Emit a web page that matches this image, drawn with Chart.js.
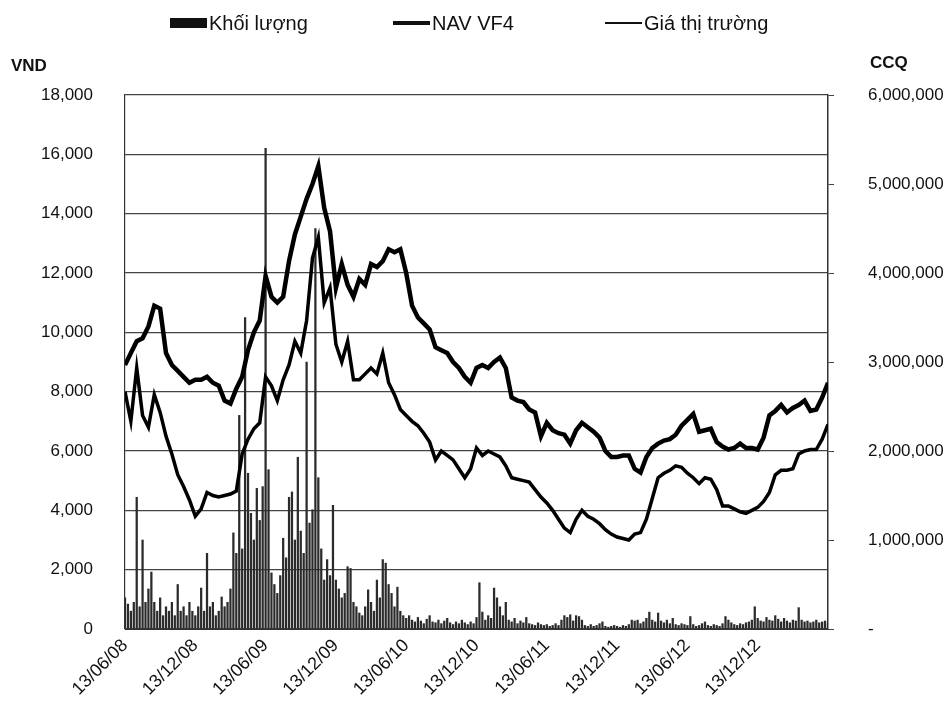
<!DOCTYPE html>
<html>
<head>
<meta charset="utf-8">
<script src="https://cdn.jsdelivr.net/npm/chart.js@4"></script>
<style>
    body { margin: 0; background: #fff; }
    #wrap { position: relative; width: 945px; height: 708px; font-family: "Liberation Sans", Arial, sans-serif; }
    #legend { position: absolute; top: 10px; left: 0; width: 945px; height: 26px; }
    .item { position: absolute; top: 0; height: 26px; display: flex; align-items: center; font-size: 20px; color: #111; }
    .sw { display: inline-block; width: 37px; margin-right: 2px; background: #111; }
    .axisTitle { position: absolute; font-weight: bold; font-size: 17px; color: #111; }
</style>
</head>
<body>
<div id="wrap">
    <canvas id="chart" width="945" height="708"></canvas>
    <div id="legend"></div>
    <div class="axisTitle" id="leftTitle" style="left:11px; top:56px;"></div>
    <div class="axisTitle" id="rightTitle" style="left:870px; top:53px;"></div>
</div>
<script>
// tick labels on the date axis, one every 6 months from 13/06/08
const dateLabels = ['13/06/08', '13/12/08', '13/06/09', '13/12/09', '13/06/10', '13/12/10', '13/06/11', '13/12/11', '13/06/12', '13/12/12'];
const dateTicks = [0, 6, 12, 18, 24, 30, 36, 42, 48, 54];   // months after 13/06/08

const seriesNames = ['Khối lượng', 'NAV VF4', 'Giá thị trường'];
const axisTitles = ['VND', 'CCQ'];

// NAV VF4 (VND), one value every half month
const navVF4 = [
    8900, 9300, 9700, 9800, 10200, 10900, 10800, 9300, 8900, 8700,
    8500, 8300, 8400, 8400, 8500, 8300, 8200, 7700, 7600, 8100,
    8500, 9400, 10000, 10400, 11900, 11200, 11000, 11200, 12400, 13300,
    13900, 14500, 15000, 15600, 14200, 13400, 11500, 12300, 11600, 11200,
    11800, 11600, 12300, 12200, 12400, 12800, 12700, 12800, 12000, 10900,
    10500, 10300, 10100, 9500, 9400, 9300, 9000, 8800, 8500, 8300,
    8800, 8900, 8800, 9000, 9150, 8800, 7800, 7700, 7650, 7400,
    7300, 6500, 6950, 6700, 6600, 6550, 6250, 6700, 6950, 6800,
    6650, 6450, 6000, 5800, 5800, 5850, 5850, 5400, 5270, 5800,
    6100, 6250, 6350, 6400, 6550, 6850, 7050, 7250, 6650, 6700,
    6750, 6300, 6150, 6050, 6100, 6250, 6100, 6100, 6050, 6450,
    7200, 7350, 7550, 7300, 7450, 7550, 7700, 7350, 7400, 7800,
    8300
];

// Giá thị trường (VND), one value every half month
const marketPrice = [
    8000, 7000, 8800, 7200, 6800, 7900, 7300, 6500, 5900, 5200,
    4800, 4350, 3800, 4050, 4600, 4500, 4450, 4500, 4550, 4650,
    5900, 6400, 6750, 6950, 8500, 8200, 7700, 8400, 8900, 9700,
    9300, 10400, 12500, 13200, 11000, 11500, 9600, 9000, 9700, 8400,
    8400, 8600, 8800, 8600, 9300, 8300, 7900, 7400, 7200, 7000,
    6850, 6600, 6300, 5700, 6000, 5850, 5700, 5400, 5100, 5400,
    6100, 5850, 6000, 5900, 5800, 5500, 5100, 5050, 5000, 4950,
    4700, 4450, 4250, 4000, 3700, 3400, 3250, 3700, 4000, 3800,
    3700, 3550, 3350, 3200, 3100, 3050, 3000, 3200, 3250, 3700,
    4400, 5100, 5250, 5350, 5500, 5450, 5250, 5100, 4900, 5100,
    5050, 4700, 4150, 4150, 4050, 3950, 3900, 4000, 4100, 4300,
    4600, 5200, 5350, 5350, 5400, 5900, 6000, 6050, 6050, 6400,
    6900
];

// Khối lượng (CCQ), one value every quarter month
const volume = [
    350000, 280000, 200000, 300000, 1480000, 250000, 1000000, 300000, 450000, 640000, 300000, 200000,
    350000, 150000, 250000, 200000, 300000, 150000, 500000, 200000, 250000, 150000, 300000, 200000,
    150000, 250000, 460000, 200000, 850000, 250000, 300000, 150000, 200000, 360000, 250000, 300000,
    450000, 1080000, 850000, 2400000, 900000, 3500000, 1750000, 1300000, 1000000, 1580000, 1220000, 1600000,
    5400000, 1790000, 630000, 500000, 400000, 600000, 1020000, 800000, 1480000, 1540000, 1000000, 1930000,
    1100000, 850000, 3000000, 1190000, 1340000, 4500000, 1700000, 900000, 550000, 780000, 600000, 1390000,
    550000, 450000, 350000, 400000, 700000, 680000, 300000, 250000, 180000, 150000, 250000, 440000,
    300000, 200000, 550000, 350000, 780000, 740000, 500000, 400000, 250000, 470000, 200000, 150000,
    120000, 150000, 100000, 80000, 130000, 90000, 60000, 110000, 150000, 80000, 70000, 100000,
    60000, 90000, 120000, 70000, 50000, 80000, 60000, 100000, 70000, 50000, 80000, 60000,
    130000, 520000, 190000, 100000, 150000, 120000, 460000, 350000, 250000, 150000, 300000, 100000,
    80000, 120000, 60000, 90000, 70000, 130000, 60000, 50000, 40000, 70000, 50000, 40000,
    50000, 30000, 40000, 60000, 40000, 100000, 150000, 130000, 160000, 90000, 150000, 140000,
    100000, 40000, 30000, 50000, 30000, 40000, 60000, 80000, 30000, 20000, 30000, 40000,
    30000, 20000, 40000, 30000, 50000, 100000, 90000, 100000, 60000, 80000, 120000, 190000,
    100000, 80000, 180000, 90000, 70000, 100000, 60000, 120000, 50000, 40000, 60000, 50000,
    40000, 140000, 50000, 30000, 40000, 60000, 80000, 40000, 30000, 50000, 40000, 30000,
    60000, 140000, 100000, 70000, 50000, 40000, 60000, 50000, 70000, 80000, 100000, 250000,
    120000, 90000, 80000, 130000, 100000, 90000, 150000, 110000, 80000, 120000, 90000, 70000,
    100000, 90000, 240000, 100000, 80000, 90000, 70000, 80000, 100000, 70000, 80000, 90000,
    60000
];

const tickFont = { family: 'Liberation Sans', size: 17 };

const chart = new Chart(document.getElementById('chart'), {
    data: {
        datasets: [
            {
                type: 'bar',
                label: seriesNames[0],
                data: volume.map((v, i) => ({ x: i * 0.25, y: v })),
                yAxisID: 'y1',
                backgroundColor: '#2b2b2b',
                borderWidth: 0,
                barThickness: 1.6,
                order: 3
            },
            {
                type: 'line',
                label: seriesNames[1],
                data: navVF4.map((v, i) => ({ x: i * 0.5, y: v })),
                yAxisID: 'y',
                borderColor: '#000',
                borderWidth: 4.5,
                pointRadius: 0,
                tension: 0,
                order: 1
            },
            {
                type: 'line',
                label: seriesNames[2],
                data: marketPrice.map((v, i) => ({ x: i * 0.5, y: v })),
                yAxisID: 'y',
                borderColor: '#000',
                borderWidth: 3.5,
                pointRadius: 0,
                tension: 0,
                order: 2
            }
        ]
    },
    options: {
        responsive: false,
        animation: false,
        layout: { padding: { top: 95, left: 0, right: 0, bottom: 0 } },
        plugins: { legend: { display: false }, tooltip: { enabled: false } },
        scales: {
            x: {
                type: 'linear',
                offset: false,
                min: 0,
                max: 60,
                grid: { display: false, drawTicks: false, offset: false },
                border: { display: true, color: '#333', width: 1 },
                afterBuildTicks: axis => { axis.ticks = dateTicks.map(v => ({ value: v })); },
                afterFit: axis => { axis.height = 79; },
                ticks: {
                    autoSkip: false,
                    maxRotation: 45,
                    minRotation: 45,
                    padding: 6,
                    color: '#111',
                    font: { family: 'Liberation Sans', size: 18 },
                    callback: v => dateLabels[dateTicks.indexOf(v)]
                }
            },
            y: {
                position: 'left',
                min: 0,
                max: 18000,
                grid: { color: '#444', lineWidth: 1.2, drawTicks: false },
                border: { display: true, color: '#333', width: 1.2 },
                afterFit: axis => { axis.width = 125; },
                ticks: {
                    stepSize: 2000,
                    padding: 32,
                    color: '#111',
                    font: tickFont,
                    callback: v => v.toLocaleString('en-US')
                }
            },
            y1: {
                position: 'right',
                min: 0,
                max: 6000000,
                grid: { drawOnChartArea: false, drawTicks: true, tickLength: 6, color: '#444' },
                border: { display: true, color: '#333', width: 1.5 },
                afterFit: axis => { axis.width = 117; },
                ticks: {
                    stepSize: 1000000,
                    padding: 34,
                    color: '#111',
                    font: tickFont,
                    callback: v => v === 0 ? '-' : v.toLocaleString('en-US')
                }
            }
        }
    }
});

// legend and axis titles as plain text over the canvas
const legendPos = [170, 393, 605];
const swatchH = [10, 4, 2.5];
const legend = document.getElementById('legend');
seriesNames.forEach((name, i) => {
    const item = document.createElement('div');
    item.className = 'item';
    item.style.left = legendPos[i] + 'px';
    item.innerHTML = `<span class="sw" style="height:${swatchH[i]}px"></span>${name}`;
    legend.appendChild(item);
});
document.getElementById('leftTitle').textContent = axisTitles[0];
document.getElementById('rightTitle').textContent = axisTitles[1];
</script>
</body>
</html>
